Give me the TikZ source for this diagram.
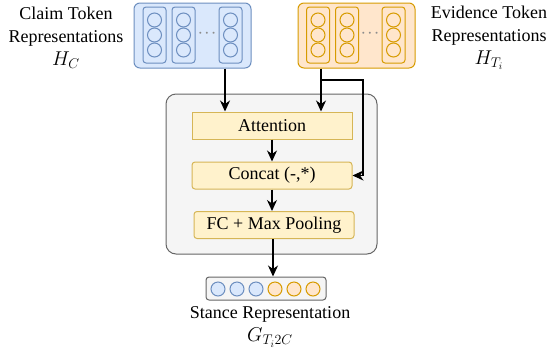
\RequirePackage{fix-cm}
\documentclass[tikz,border=0pt]{standalone}
\usepackage{fontspec}
\setmainfont{Liberation Serif}
\usetikzlibrary{arrows.meta}
\definecolor{blfill}{HTML}{DAE8FC}
\definecolor{blline}{HTML}{6C8EBF}
\definecolor{orfill}{HTML}{FFE6CC}
\definecolor{orline}{HTML}{D79B00}
\definecolor{yefill}{HTML}{FFF2CC}
\definecolor{yeline}{HTML}{D6B656}
\definecolor{grfill}{HTML}{F5F5F5}
\definecolor{grline}{HTML}{666666}
\newcommand{\bigmath}[1]{{\fontsize{20}{23}\selectfont$#1$}}
\begin{document}
\begin{tikzpicture}[x=1pt,y=-1pt,
    font=\fontsize{18}{23}\selectfont,
    tokbox/.style={draw,rounded corners=6pt,line width=1pt,minimum width=117pt,minimum height=65pt},
    tokcol/.style={draw,rounded corners=3pt,line width=1pt,minimum width=23pt,minimum height=56pt},
    unit/.style={draw,circle,line width=1pt,minimum size=14pt,inner sep=0pt},
    layer/.style={draw=yeline,fill=yefill,line width=1pt,minimum width=160pt,minimum height=27pt,inner sep=0pt},
    more/.style={text=gray!90,font=\fontsize{13}{13}\selectfont\boldmath},
    arr/.style={-{Stealth[length=11pt,width=10pt,inset=3.5pt]},line width=1.2pt}]
  \useasboundingbox (0,0) rectangle (551,354);

  \node[tokbox,fill=blfill,draw=blline] (claim) at (192.5,35.5) {};
  \node[tokbox,fill=orfill,draw=orline] (ev) at (356.5,35.5) {};
  \begin{scope}[blline]
    \draw
      (154.5,35) node[tokcol] (cc1) {}
      (183.5,35) node[tokcol] (cc2) {}
      (230.5,35) node[tokcol] (cc3) {};
    \draw
      (154.5,20) node[unit] (c11) {}
      (154.5,35) node[unit] (c12) {}
      (154.5,50) node[unit] (c13) {}
      (183.5,20) node[unit] (c21) {}
      (183.5,35) node[unit] (c22) {}
      (183.5,50) node[unit] (c23) {}
      (230.5,20) node[unit] (c31) {}
      (230.5,35) node[unit] (c32) {}
      (230.5,50) node[unit] (c33) {};
  \end{scope}
  \begin{scope}[orline]
    \draw
      (318,35) node[tokcol] (ec1) {}
      (347,35) node[tokcol] (ec2) {}
      (393.5,35) node[tokcol] (ec3) {};
    \draw
      (318,20) node[unit] (e11) {}
      (318,35) node[unit] (e12) {}
      (318,50) node[unit] (e13) {}
      (347,20) node[unit] (e21) {}
      (347,35) node[unit] (e22) {}
      (347,50) node[unit] (e23) {}
      (393.5,20) node[unit] (e31) {}
      (393.5,35) node[unit] (e32) {}
      (393.5,50) node[unit] (e33) {};
  \end{scope}
  \node[more] (cdots) at (207,33) {$\cdots$};
  \node[more] (edots) at (370,33) {$\cdots$};

  \node[align=center,inner sep=0pt] (hc) at (66,38) {Claim Token\\Representations\\\bigmath{H_C}};
  \node[align=center,inner sep=0pt] (ht) at (489,38) {Evidence Token\\Representations\\\bigmath{H_{T_i}}};

  \node[draw=grline,fill=grfill,rounded corners=10pt,line width=1pt,
        minimum width=211pt,minimum height=160pt] (enc) at (271.5,174) {};
  \node[layer] (att) at (272,125.5) {Attention};
  \node[layer,rounded corners=3pt] (cat) at (272,175.5) {Concat (-,*)};
  \node[layer,rounded corners=3pt] (fc) at (274,225) {FC + Max Pooling};

  \node[draw=grline,fill=grfill,rounded corners=3pt,line width=1pt,
        minimum width=120pt,minimum height=23pt] (st) at (266,288.5) {};
  \draw[blline,fill=blfill]
    (218,289) node[unit,fill=blfill] (s1) {}
    (237,289) node[unit,fill=blfill] (s2) {}
    (256,289) node[unit,fill=blfill] (s3) {};
  \draw[orline]
    (275,289) node[unit,fill=orfill] (s4) {}
    (294,289) node[unit,fill=orfill] (s5) {}
    (313,289) node[unit,fill=orfill] (s6) {};
  \node[align=center,inner sep=0pt] (g) at (270,327) {Stance Representation\\\bigmath{G_{T_i2C}}};

  \coordinate (cj) at (225,80);
  \coordinate (ej) at (321,80);
  \begin{scope}[arr]
    \draw (claim.south -| cj) -- (cj |- att.north);
    \draw (ej) -- (ej |- att.north);
    \draw (ej) -- ++(42,0) |- (cat.east);
    \draw (att.south) -- (cat.north);
    \draw (cat.south) -- (cat.south |- fc.north);
    \draw (fc.south -| 273,0) -- (st.north -| 273,0);
  \end{scope}
  \draw[line width=1.2pt] (ev.south -| ej) -- (ej);
\end{tikzpicture}
\end{document}
